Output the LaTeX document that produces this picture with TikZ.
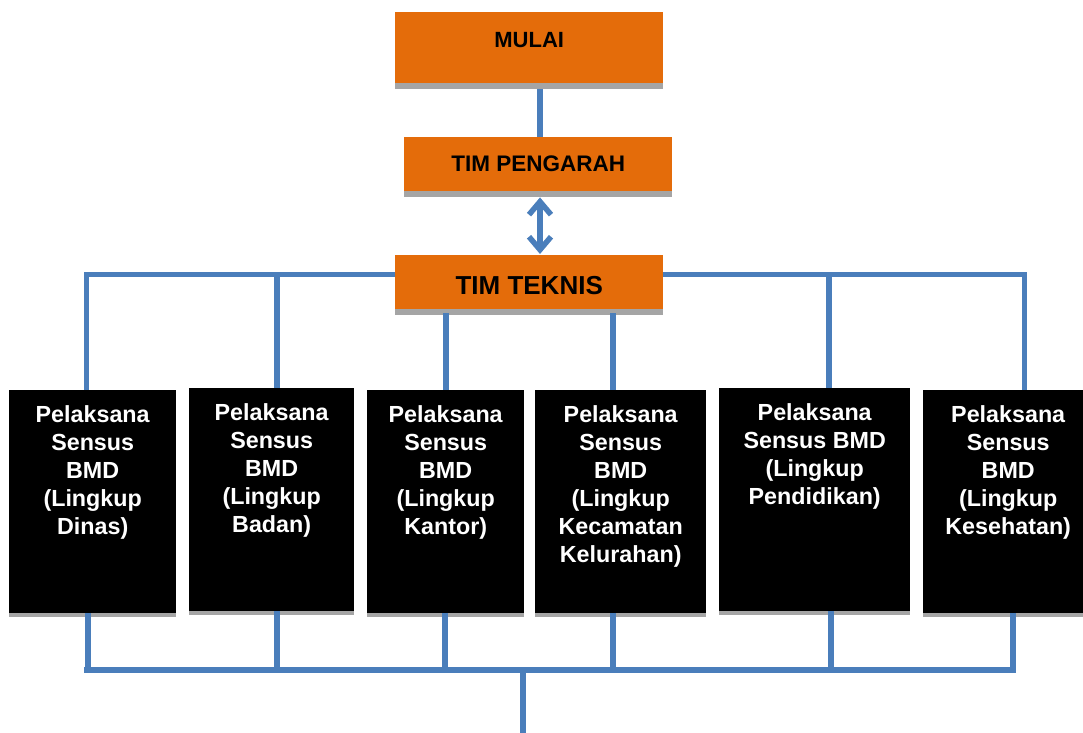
\documentclass[tikz,border=0pt]{standalone}
\usepackage{fontspec}
\setmainfont{Liberation Sans}
\usetikzlibrary{arrows.meta,shadows}
\definecolor{boxorange}{HTML}{E46C0A}
\definecolor{linkblue}{HTML}{4A7EBB}
\definecolor{shadowgray}{HTML}{A5A5A5}
\tikzset{
  stage/.style={fill=boxorange, draw=none, minimum width=268pt, inner sep=0pt,
    anchor=north west,
    drop shadow={shadow xshift=0pt, shadow yshift=-5.5pt, fill=shadowgray, opacity=1}},
  cell/.style={fill=black, draw=none, inner sep=0pt, anchor=north west,
    drop shadow={shadow xshift=0pt, shadow yshift=-4pt, fill=shadowgray, opacity=1}},
  celltext/.style={text=white, align=center, inner sep=0pt, anchor=north,
    font=\fontsize{23.3pt}{28pt}\selectfont\bfseries},
  link/.style={draw=linkblue, line width=5.5pt},
  bus/.style={draw=linkblue, line width=6.5pt},
  barb/.tip={Straight Barb[length=13pt, width=22pt]},
  twoway/.style={link, barb-barb}
}
\begin{document}
\begin{tikzpicture}[x=1pt, y=-1pt]
  \useasboundingbox (0,0) rectangle (1083,732);
  \clip (0,0) rectangle (1083,732);

  % top chain
  \node[stage, minimum height=71pt, text height=16pt, text depth=17pt,
        font=\fontsize{22pt}{26pt}\selectfont\bfseries] (mulai) at (395,12) {MULAI};
  \node[stage, minimum height=54pt,
        font=\fontsize{22.5pt}{26pt}\selectfont\bfseries] (pengarah) at (404,137) {TIM PENGARAH};
  \node[stage, minimum height=54pt, text height=23.6pt, text depth=0pt,
        font=\fontsize{26pt}{30pt}\selectfont\bfseries] (teknis) at (395,255) {TIM TEKNIS};

  % executing units
  \node[cell, minimum width=167pt, minimum height=223pt] (b1) at (9,390) {};
  \node[cell, minimum width=165pt, minimum height=223pt] (b2) at (189,388) {};
  \node[cell, minimum width=157pt, minimum height=223pt] (b3) at (367,390) {};
  \node[cell, minimum width=171pt, minimum height=223pt] (b4) at (535,390) {};
  \node[cell, minimum width=191pt, minimum height=223pt] (b5) at (719,388) {};
  \node[cell, minimum width=170pt, minimum height=223pt] (b6) at (923,390) {};

  \node[celltext] (t1) at ([yshift=-15pt]b1.north) {Pelaksana\\Sensus\\BMD\\(Lingkup\\Dinas)};
  \node[celltext] (t2) at ([yshift=-15pt]b2.north) {Pelaksana\\Sensus\\BMD\\(Lingkup\\Badan)};
  \node[celltext] (t3) at ([yshift=-15pt]b3.north) {Pelaksana\\Sensus\\BMD\\(Lingkup\\Kantor)};
  \node[celltext] (t4) at ([yshift=-15pt]b4.north) {Pelaksana\\Sensus\\BMD\\(Lingkup\\Kecamatan\\Kelurahan)};
  \node[celltext] (t5) at ([yshift=-15pt]b5.north) {Pelaksana\\Sensus BMD\\(Lingkup\\Pendidikan)};
  \node[celltext] (t6) at ([yshift=-15pt]b6.north) {Pelaksana\\Sensus\\BMD\\(Lingkup\\Kesehatan)};

  % connector positions
  \coordinate (axis) at (540,0);
  \coordinate (u1) at (86.5,274.5);
  \coordinate (u2) at (277,274.5);
  \coordinate (u3) at (446,274.5);
  \coordinate (u4) at (613,274.5);
  \coordinate (u5) at (829,274.5);
  \coordinate (u6) at (1024.5,274.5);
  \coordinate (d1) at (88,670);
  \coordinate (d2) at (277,670);
  \coordinate (d3) at (445,670);
  \coordinate (d4) at (613,670);
  \coordinate (d5) at (831,670);
  \coordinate (d6) at (1013,670);
  \coordinate (busL) at (84,670);
  \coordinate (busR) at (1015.5,670);
  \coordinate (dc) at (523,670);
  \coordinate (tail) at (523,745);

  % top chain connectors
  \draw[link, shorten <=6pt] (mulai.south -| axis) -- (pengarah.north -| axis);
  \draw[twoway, shorten <=6pt, shorten >=1pt] (pengarah.south -| axis) -- (teknis.north -| axis);

  % distribution bar from TIM TEKNIS
  \draw[link] (teknis.west |- u2) -- (u1) -- (u1 |- b1.north);
  \draw[link] (u2) -- (u2 |- b2.north);
  \draw[link, shorten <=4pt] (u3 |- teknis.south) -- (u3 |- b3.north);
  \draw[link, shorten <=4pt] (u4 |- teknis.south) -- (u4 |- b4.north);
  \draw[link] (teknis.east |- u5) -- (u6) -- (u6 |- b6.north);
  \draw[link] (u5) -- (u5 |- b5.north);

  % collecting bar
  \draw[link] (d1 |- b1.south) -- (d1);
  \draw[link] (d2 |- b2.south) -- (d2);
  \draw[link] (d3 |- b3.south) -- (d3);
  \draw[link] (d4 |- b4.south) -- (d4);
  \draw[link] (d5 |- b5.south) -- (d5);
  \draw[link] (d6 |- b6.south) -- (d6);
  \draw[bus] (busL) -- (busR);
  \draw[bus] (dc) -- (tail);
\end{tikzpicture}
\end{document}
